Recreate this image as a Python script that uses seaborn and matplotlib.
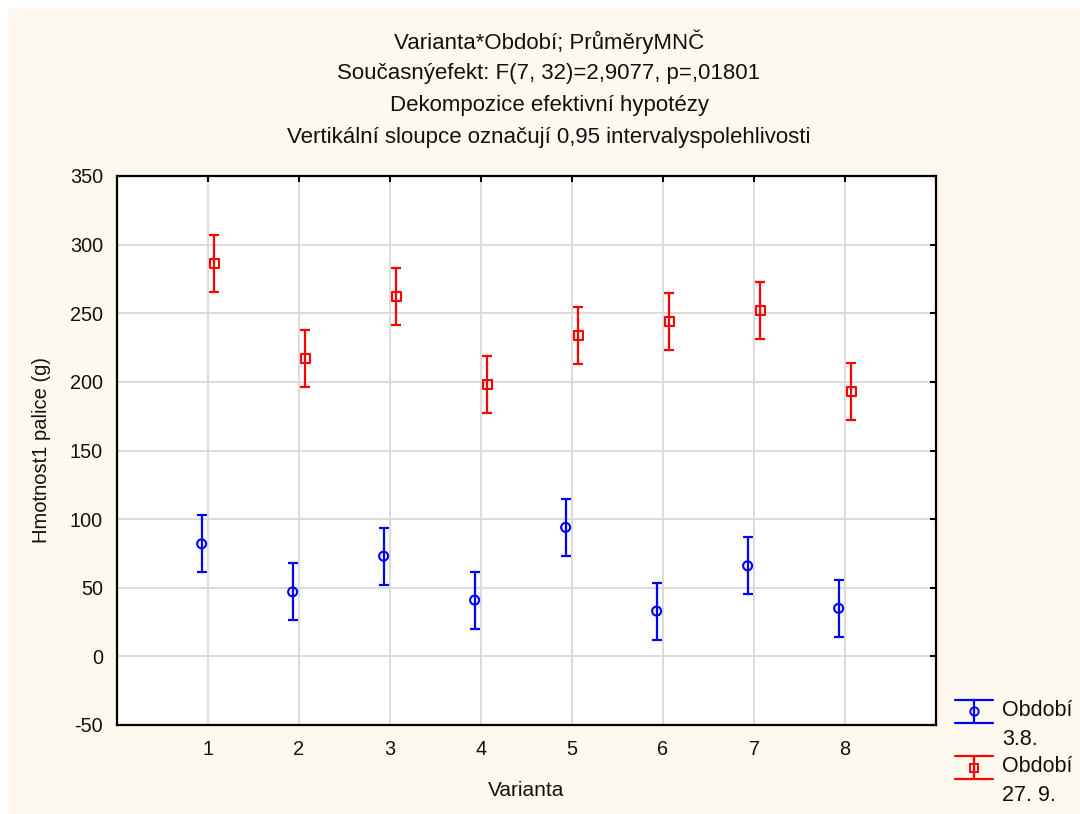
import matplotlib
matplotlib.use("Agg")
import numpy as np
import pandas as pd
import seaborn as sns
import matplotlib.pyplot as plt
from matplotlib.legend_handler import HandlerBase
from matplotlib.lines import Line2D
from matplotlib.patches import Rectangle

# ---- data ----
varianta = [1, 2, 3, 4, 5, 6, 7, 8]
obdobi = ["3.8.", "27. 9."]
mean_38 = [82, 47, 73, 41, 94, 33, 66, 35]
mean_279 = [286, 217, 262, 198, 234, 244, 252, 193]
ci_38 = [20.8, 20.8, 20.8, 20.8, 20.8, 20.8, 20.8, 20.8]
ci_279 = [20.8, 20.8, 20.8, 20.8, 20.8, 20.8, 20.8, 20.8]
title_lines = [
    "Varianta*Období; PrůměryMNČ",
    "Současnýefekt: F(7, 32)=2,9077, p=,01801",
    "Dekompozice efektivní hypotézy",
    "Vertikální sloupce označují 0,95 intervalyspolehlivosti",
]
xlabel = "Varianta"
ylabel = "Hmotnost1 palice (g)"
yticks = [-50, 0, 50, 100, 150, 200, 250, 300, 350]

df = pd.DataFrame({
    "Varianta": varianta * 2,
    "Období": [obdobi[0]] * 8 + [obdobi[1]] * 8,
    "mean": mean_38 + mean_279,
    "ci": ci_38 + ci_279,
})

sns.set_theme(style="white")
plt.rcParams["font.family"] = ["Liberation Sans", "DejaVu Sans"]

colors = {obdobi[0]: "#0000FF", obdobi[1]: "#FF0000"}
markers = {obdobi[0]: "o", obdobi[1]: "s"}
sizes = {obdobi[0]: 42, obdobi[1]: 40}
offsets = {obdobi[0]: -0.07, obdobi[1]: 0.07}

fig = plt.figure(figsize=(10.8, 8.14), dpi=100)
fig.patch.set_facecolor("white")
fig.patches.append(Rectangle((8 / 1080, 0), 1, 1 - 9 / 814, transform=fig.transFigure,
                             facecolor="#FEF9EE", edgecolor="none", zorder=-10))
ax = fig.add_axes([117 / 1080, 1 - 725 / 814, (936 - 117) / 1080, (725 - 176) / 814])
ax.set_facecolor("white")

for per in obdobi:
    sub = df[df["Období"] == per].copy()
    sub["x"] = sub["Varianta"] + offsets[per]
    c = colors[per]
    ax.errorbar(sub["x"], sub["mean"], yerr=sub["ci"], fmt="none", ecolor=c,
                elinewidth=1.6, capsize=3.8, capthick=1.6, zorder=3)
    sns.scatterplot(data=sub, x="x", y="mean", marker=markers[per], s=sizes[per],
                    facecolor="none", edgecolor=c, linewidth=1.5, ax=ax, zorder=4,
                    legend=False)

ax.set_xlim(0, 9)
ax.set_ylim(-50, 350)
ax.set_xticks(varianta)
ax.set_yticks(yticks)
ax.set_xticklabels([str(v) for v in varianta])
ax.set_yticklabels([str(v) for v in yticks])
ax.grid(True, color="#DADADA", linewidth=1.4)
ax.set_axisbelow(True)
for s in ax.spines.values():
    s.set_visible(True)
    s.set_color("black")
    s.set_linewidth(1.6)
ax.tick_params(axis="both", direction="in", length=4, width=1.5, color="black",
               labelsize=14.3, labelcolor="#111111", top=True, right=True,
               labeltop=False, labelright=False)
ax.tick_params(axis="y", pad=10)
ax.tick_params(axis="x", pad=11)
ax.set_xlabel(xlabel, fontsize=15, color="#111111", labelpad=16)
ax.set_ylabel(ylabel, fontsize=14.5, color="#111111", labelpad=14)

for i, line in enumerate(title_lines):
    fig.text(549 / 1080, 1 - (42 + i * 32.0) / 814, line, ha="center", va="center",
             fontsize=16, color="#111111")


class ErrHandler(HandlerBase):
    def __init__(self, color, marker):
        super().__init__()
        self.color = color
        self.marker = marker

    def create_artists(self, legend, orig_handle, xdescent, ydescent, width, height,
                       fontsize, trans):
        top = height + 13.2
        bot = top - 16.5
        mid = (top + bot) / 2
        xm = width / 2
        arts = [
            Line2D([0, width], [top, top], color=self.color, lw=1.6, transform=trans),
            Line2D([0, width], [bot, bot], color=self.color, lw=1.6, transform=trans),
            Line2D([xm, xm], [bot, top], color=self.color, lw=1.6, transform=trans),
            Line2D([xm], [mid], marker=self.marker, markersize=6, mfc="none",
                   mec=self.color, mew=1.4, transform=trans),
        ]
        return arts


handles = [Line2D([], [], color=colors[p]) for p in obdobi]
labels = ["Období\n" + p for p in obdobi]
leg = ax.legend(handles, labels, loc="upper left", bbox_to_anchor=(955 / 1080, 1 - 700 / 814),
                bbox_transform=fig.transFigure, frameon=False, fontsize=15.5,
                handlelength=1.75, handletextpad=0.45, labelspacing=0.3,
                borderaxespad=0, borderpad=0,
                handler_map={handles[0]: ErrHandler(colors[obdobi[0]], "o"),
                             handles[1]: ErrHandler(colors[obdobi[1]], "s")})
for t in leg.get_texts():
    t.set_color("#111111")
    t.set_linespacing(1.5)

fig.savefig("out.png", dpi=100, facecolor=fig.get_facecolor())
